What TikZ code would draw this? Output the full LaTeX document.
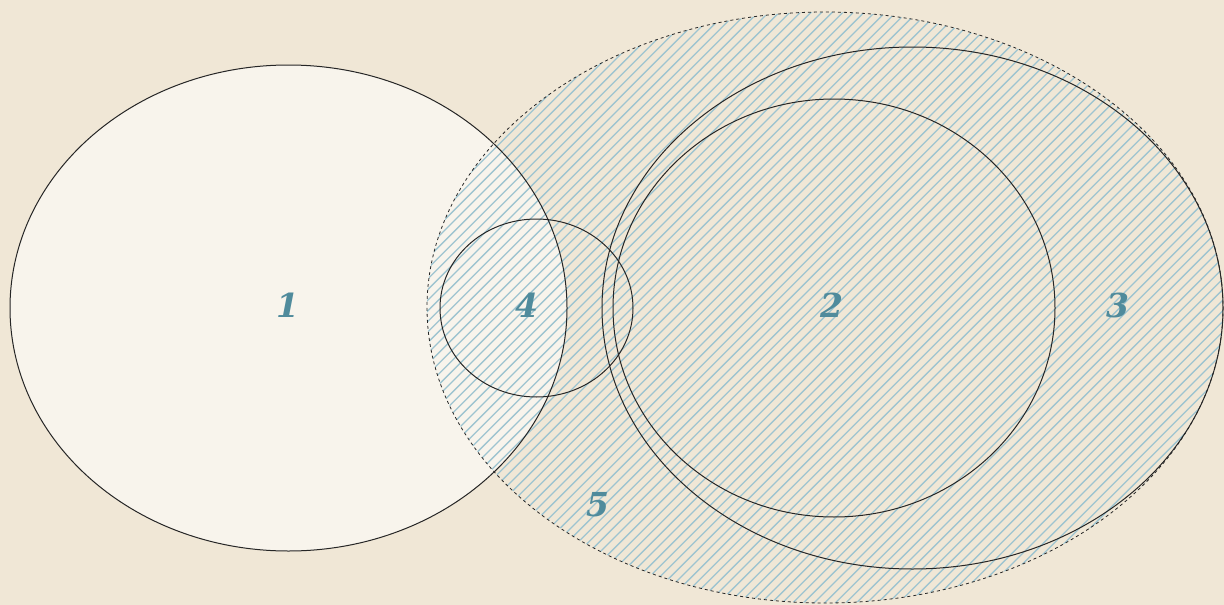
\documentclass[tikz,border=0pt]{standalone}
\usepackage{fontspec}
\newfontfamily\lblfont{DejaVu Serif}
\begin{document}
\begin{tikzpicture}[x=1pt,y=-1pt,
  outline/.style={draw=black!85,line width=1pt},
  dashout/.style={draw=black!85,line width=0.8pt,dash pattern=on 3pt off 3pt},
  hatch/.style={draw=hatchblue,line width=1.3pt},
  lbl/.style={text=lblblue,font=\lblfont\fontsize{33}{38}\selectfont\bfseries\itshape,inner sep=0pt}]
\definecolor{bgc}{RGB}{240,231,214}
\definecolor{fillone}{RGB}{248,244,236}
\definecolor{hatchblue}{RGB}{158,196,208}
\definecolor{lblblue}{RGB}{80,139,156}
\useasboundingbox (0,0) rectangle (1224,605);
\fill[bgc] (0,0) rectangle (1224,605);
% set 1
\fill[fillone] (288.5,308) ellipse [x radius=278.5,y radius=243];
% hatched set 5
\begin{scope}
  \clip (825,307.5) ellipse [x radius=398,y radius=295.5];
  \foreach \i in {0,...,160} {
    \draw[hatch] ({-200+\i*10.6},610) -- ({-200+\i*10.6+615},-5);
  }
\end{scope}
\draw[outline] (288.5,308) ellipse [x radius=278.5,y radius=243];
\draw[dashout] (825,307.5) ellipse [x radius=398,y radius=295.5];
\draw[outline] (912.5,308) ellipse [x radius=310.5,y radius=261];
\draw[outline] (834,308) ellipse [x radius=221,y radius=209];
\draw[outline] (536.5,308) ellipse [x radius=96.5,y radius=89];
\node[lbl] (l1) at (288,305) {1};
\node[lbl] (l4) at (527,305) {4};
\node[lbl] (l2) at (832,305) {2};
\node[lbl] (l3) at (1118,305) {3};
\node[lbl] (l5) at (598,505) {5};
\end{tikzpicture}
\end{document}
